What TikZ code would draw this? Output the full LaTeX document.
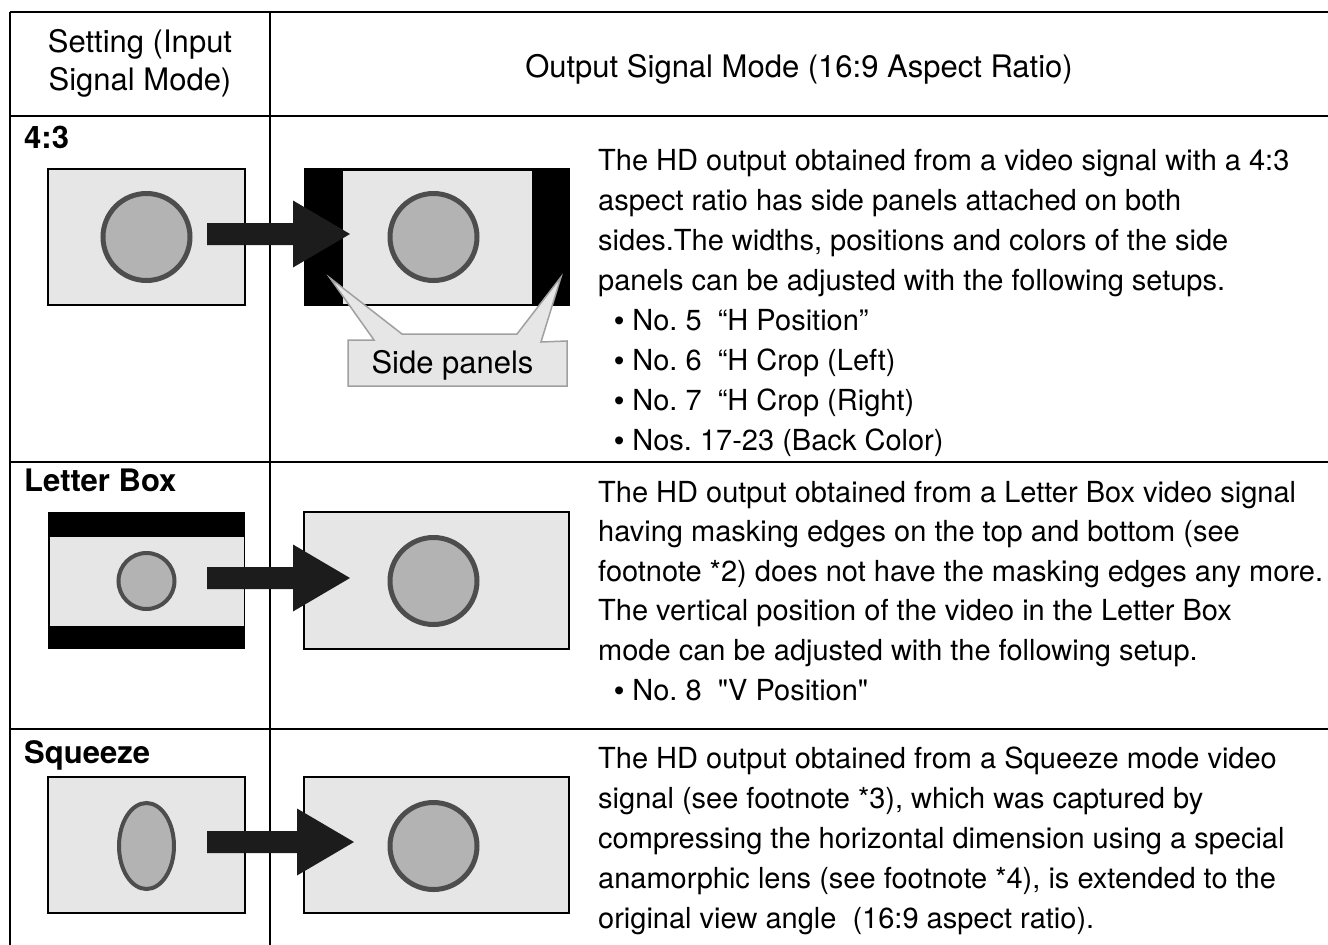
\documentclass[tikz,border=0pt]{standalone}
\usepackage{fontspec}
\setmainfont{TeX Gyre Heros}
\newfontfamily\plainfont{TeX Gyre Heros}
\newfontfamily\bulletfont{Liberation Sans}
\newcommand\itembullet{{\bulletfont •}}
\frenchspacing
\definecolor{screenfill}{HTML}{E6E6E6}
\definecolor{discfill}{HTML}{B3B3B3}
\definecolor{discline}{HTML}{4D4D4D}
\definecolor{arrowfill}{HTML}{1C1C1C}
\definecolor{calloutline}{HTML}{A0A0A0}
\begin{document}
\begin{tikzpicture}[x=1pt,y=-1pt,
  rule/.style={line width=1.8pt, black},
  screen/.style={fill=screenfill, draw=black, line width=1.4pt},
  disc/.style={fill=discfill, draw=discline, line width=5pt},
  smalldisc/.style={fill=discfill, draw=discline, line width=4pt},
  head/.style={anchor=base, inner sep=0pt, font=\fontsize{31}{38}\selectfont},
  label/.style={anchor=base west, inner sep=0pt, font=\fontsize{31}{38}\selectfont\bfseries},
  body/.style={anchor=base west, inner sep=0pt, font=\fontsize{29}{40}\selectfont\frenchspacing},
  pics/fatarrow/.style={code={
    \fill[arrowfill] (0,-11) -- (#1,-11) -- (#1,-33.5) -- ({#1+57},0) -- (#1,33.5) -- (#1,11) -- (0,11) -- cycle;}}
]
\useasboundingbox (0,0) rectangle (1328,945);

% ---- table rules ----
\draw[rule] (10,12) -- (1328,12);
\draw[rule] (10,116) -- (1328,116);
\draw[rule] (10,462) -- (1328,462);
\draw[rule] (10,729) -- (1328,729);
\draw[rule] (10,12) -- (10,945);
\draw[rule] (270,12) -- (270,945);

% ---- header ----
\node[head] (hdrA) at (140,52) {Setting (Input};
\node[head] (hdrB) at (140,90) {Signal Mode)};
\node[head] (hdrC) at (799,77) {Output Signal Mode (16:9 Aspect Ratio)};

% ---- row 1: 4:3 ----
\node[label] (lab1) at (24,148) {4:3};
\draw[screen] (48,169) rectangle (245,305);
\draw[disc] (146.5,237) circle (43.5);
\fill[black] (303.5,168) rectangle (569.5,305.5);
\fill[screenfill] (343,170.5) rectangle (532,303.5);
\draw[disc] (433.5,237) circle (43.5);
\pic at (207,234) {fatarrow=86};
% callout with two pointers
\filldraw[fill=screenfill, draw=calloutline, line width=1.5pt, line join=miter]
  (348,340) -- (374,340) -- (330,278) -- (402,334) -- (517,334) -- (561,277)
  -- (541,342) -- (567,341) -- (567,386) -- (348,386) -- cycle;
\node[head] (side) at (452.5,373) {Side panels};

\node[body] (t1a) at (598,170) {The HD output obtained from a video signal with a 4:3};
\node[body] (t1b) at (598,210) {aspect ratio has side panels attached on both};
\node[body] (t1c) at (598,250) {sides.The widths, positions and colors of the side};
\node[body] (t1d) at (598,290) {panels can be adjusted with the following setups.};
\node[body] (t1e) at (614,330) {\itembullet\ No. 5~~“H Position”};
\node[body] (t1f) at (614,370) {\itembullet\ No. 6~~“H Crop (Left)};
\node[body] (t1g) at (614,410) {\itembullet\ No. 7~~“H Crop (Right)};
\node[body] (t1h) at (614,450) {\itembullet\ Nos. 17-23 (Back Color)};

% ---- row 2: Letter Box ----
\node[label] (lab2) at (24,491) {Letter Box};
\fill[black] (48,512) rectangle (245,649);
\fill[screenfill] (49.5,537) rectangle (243.5,626);
\draw[smalldisc] (146.5,581) circle (28);
\draw[screen] (304,512) rectangle (569,649);
\draw[disc] (433.5,581) circle (43.5);
\pic at (207,578) {fatarrow=86};

\node[body] (t2a) at (598,502) {The HD output obtained from a Letter Box video signal};
\node[body] (t2b) at (598,541) {having masking edges on the top and bottom (see};
\node[body] (t2c) at (598,581) {footnote *2) does not have the masking edges any more.};
\node[body] (t2d) at (598,620) {The vertical position of the video in the Letter Box};
\node[body] (t2e) at (598,660) {mode can be adjusted with the following setup.};
\node[body] (t2f) at (614,700) {\itembullet\ \plainfont No. 8~~"V Position"};

% ---- row 3: Squeeze ----
\node[label] (lab3) at (24,763) {Squeeze};
\draw[screen] (48,777) rectangle (245,913);
\draw[smalldisc] (146.5,846) ellipse (27.5 and 43);
\draw[screen] (304,777) rectangle (569,913);
\draw[disc] (433.5,846) circle (43.5);
\pic at (207,842) {fatarrow=90};

\node[body] (t3a) at (598,768) {The HD output obtained from a Squeeze mode video};
\node[body] (t3b) at (598,808) {signal (see footnote *3), which was captured by};
\node[body] (t3c) at (598,848) {compressing the horizontal dimension using a special};
\node[body] (t3d) at (598,888) {anamorphic lens (see footnote *4), is extended to the};
\node[body] (t3e) at (598,928) {original view angle~~(16:9 aspect ratio).};
\end{tikzpicture}
\end{document}
